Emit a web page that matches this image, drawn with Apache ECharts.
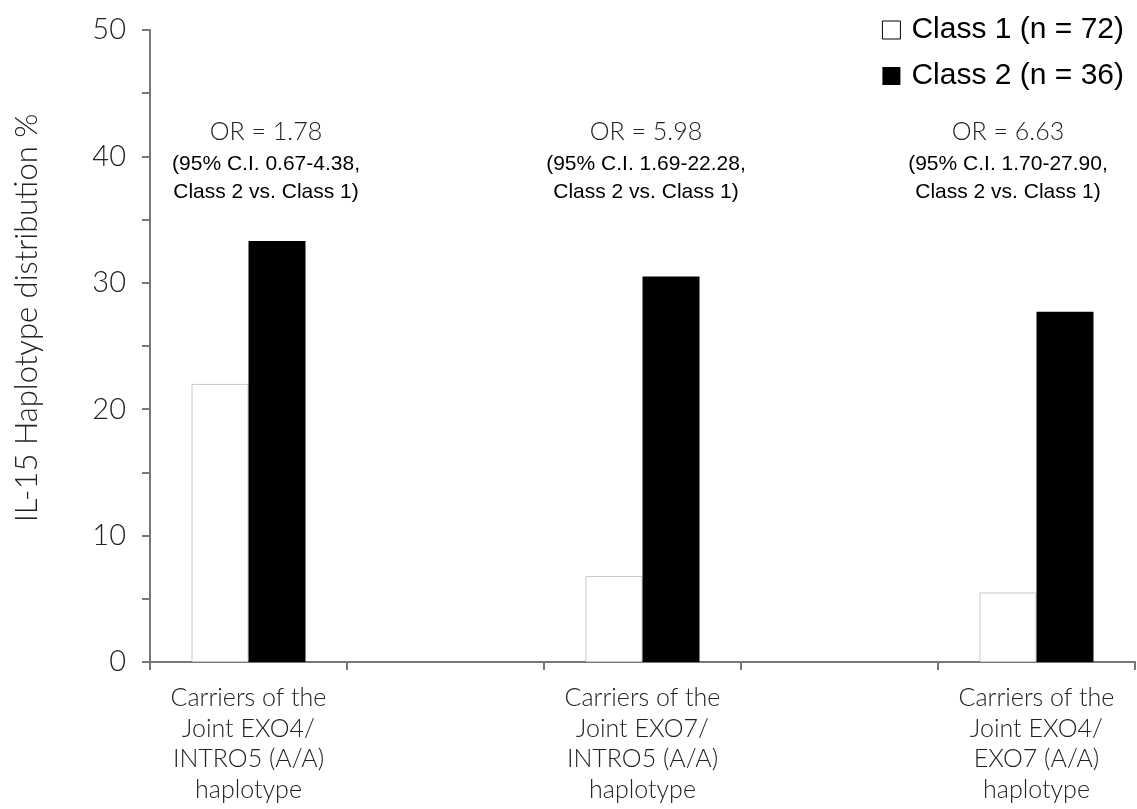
<!DOCTYPE html>
<html>
<head>
<meta charset="utf-8">
<script src="https://cdn.jsdelivr.net/npm/echarts@6/dist/echarts.min.js"></script>
<style>
html,body{margin:0;padding:0;background:#fff;}
#c{width:1137px;height:809px;}
</style>
</head>
<body>
<div id="c"></div>
<script>
// ---- data ----
var categories = [
  'Carriers of the\nJoint EXO4/\nINTRO5 (A/A)\nhaplotype',
  '',
  'Carriers of the\nJoint EXO7/\nINTRO5 (A/A)\nhaplotype',
  '',
  'Carriers of the\nJoint EXO4/\nEXO7 (A/A)\nhaplotype'
];
var class1Values = [22.0, '-', 6.8, '-', 5.5];
var class2Values = [33.3, '-', 30.5, '-', 27.7];
var seriesNames = ['Class 1 (n = 72)', 'Class 2 (n = 36)'];
var yTicks = [0, 10, 20, 30, 40, 50];
var yAxisTitle = 'IL-15 Haplotype distribution %';
var orLabels = ['OR = 1.78', 'OR = 5.98', 'OR = 6.63'];
var ciLabels = ['(95% C.I. 0.67-4.38,', '(95% C.I. 1.69-22.28,', '(95% C.I. 1.70-27.90,'];
var cmpLabels = ['Class 2 vs. Class 1)', 'Class 2 vs. Class 1)', 'Class 2 vs. Class 1)'];

var lightFont = 'Lato';
var annX = [266, 646, 1008];

var graphics = [];
for (var i = 0; i < orLabels.length; i++) {
  graphics.push({type:'text', x: annX[i], y: 132, style:{text: orLabels[i], font: '300 25px Lato', fill:'#222', textAlign:'center', textVerticalAlign:'middle'}});
  graphics.push({type:'text', x: annX[i], y: 164, style:{text: ciLabels[i], font: '21px "Liberation Sans"', fill:'#000', textAlign:'center', textVerticalAlign:'middle'}});
  graphics.push({type:'text', x: annX[i], y: 192, style:{text: cmpLabels[i], font: '21px "Liberation Sans"', fill:'#000', textAlign:'center', textVerticalAlign:'middle'}});
}
graphics.push({type:'text', x: 27, y: 318, rotation: Math.PI / 2,
  style:{text: yAxisTitle, font: '300 31px Lato', fill:'#222', textAlign:'center', textVerticalAlign:'middle'}});

var chart = echarts.init(document.getElementById('c'), null, {renderer:'canvas'});
chart.setOption({
  animation: false,
  backgroundColor: '#fff',
  grid: {left: 150, right: 2, top: 30, bottom: 147, containLabel: false},
  legend: {
    orient: 'vertical',
    right: 8,
    top: 10,
    itemWidth: 18,
    itemHeight: 18,
    itemGap: 16,
    icon: 'rect',
    textStyle: {fontFamily: '"Liberation Sans"', fontSize: 30, color: '#000', padding: [0,0,0,6]},
    data: [
      {name: seriesNames[0], itemStyle: {color:'#fff', borderColor:'#000', borderWidth:1}},
      {name: seriesNames[1], itemStyle: {color:'#000'}}
    ]
  },
  xAxis: {
    type: 'category',
    data: categories,
    boundaryGap: true,
    axisLine: {lineStyle: {color: '#777', width: 2}},
    axisTick: {show: true, length: 8, lineStyle: {color:'#777', width: 2}},
    axisLabel: {
      interval: 0,
      fontFamily: lightFont, fontWeight: 300, fontSize: 25, color: '#222',
      lineHeight: 30.5, margin: 21
    }
  },
  yAxis: {
    type: 'value',
    min: 0, max: 50, interval: 10,
    axisLine: {show: true, lineStyle: {color: '#777', width: 2}},
    axisTick: {show: true, length: 8, lineStyle: {color:'#777', width: 2}},
    minorTick: {show: true, splitNumber: 2, length: 8, lineStyle: {color:'#777', width: 2}},
    splitLine: {show: false},
    axisLabel: {
      fontFamily: lightFont, fontWeight: 300, fontSize: 29, color: '#222', margin: 24,
      formatter: function (v) { return yTicks.indexOf(v) >= 0 ? String(v) : ''; }
    }
  },
  series: [
    {
      name: seriesNames[0], type: 'bar', data: class1Values,
      barWidth: 57, barGap: '0%',
      itemStyle: {color: '#fff', borderColor: '#c8c8c8', borderWidth: 1}
    },
    {
      name: seriesNames[1], type: 'bar', data: class2Values,
      barWidth: 57, barGap: '0%',
      itemStyle: {color: '#000'}
    }
  ],
  graphic: graphics
});
</script>
</body>
</html>
